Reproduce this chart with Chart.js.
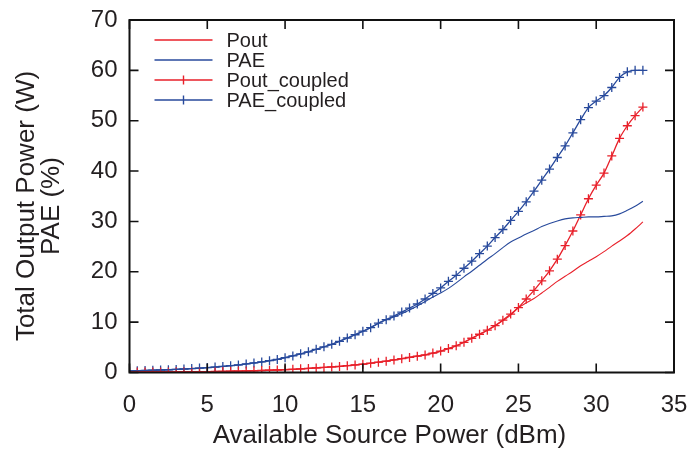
<!DOCTYPE html>
<html lang="en">
<head>
  <meta charset="UTF-8">
  <title>Pout / PAE vs Available Source Power</title>
  <style>
    html, body { margin: 0; padding: 0; background: #fff; }
    #wrap { width: 700px; height: 454px; }
  </style>
</head>
<body>
  <div id="wrap"><canvas id="grafico"></canvas></div>

  <script src="https://cdn.jsdelivr.net/npm/chart.js"></script>
  <script>
    // potencia de entrada (dBm), passo de 0.5
    const potenciaFonte = [
      0, 0.5, 1, 1.5, 2, 2.5, 3, 3.5, 4, 4.5,
      5, 5.5, 6, 6.5, 7, 7.5, 8, 8.5, 9, 9.5,
      10, 10.5, 11, 11.5, 12, 12.5, 13, 13.5, 14, 14.5,
      15, 15.5, 16, 16.5, 17, 17.5, 18, 18.5, 19, 19.5,
      20, 20.5, 21, 21.5, 22, 22.5, 23, 23.5, 24, 24.5,
      25, 25.5, 26, 26.5, 27, 27.5, 28, 28.5, 29, 29.5,
      30, 30.5, 31, 31.5, 32, 32.5, 33
    ];

    const pout = [
      0.1, 0.1, 0.1, 0.1, 0.1, 0.12, 0.13, 0.14, 0.15, 0.17,
      0.18, 0.2, 0.22, 0.25, 0.28, 0.31, 0.35, 0.4, 0.45, 0.5,
      0.57, 0.64, 0.72, 0.81, 0.9, 1.0, 1.1, 1.2, 1.35, 1.5,
      1.65, 1.85, 2.05, 2.25, 2.5, 2.75, 3.0, 3.25, 3.5, 3.85,
      4.25, 4.75, 5.3, 6.0, 6.8, 7.6, 8.4, 9.3, 10.3, 11.4,
      12.9, 13.8, 14.7, 15.8, 16.9, 18.1, 19.1, 20.1, 21.2, 22.1,
      23.0, 24.0, 25.1, 26.1, 27.2, 28.5, 29.9
    ];

    const pae = [
      0.3, 0.35, 0.4, 0.45, 0.5, 0.55, 0.62, 0.7, 0.78, 0.87,
      0.97, 1.08, 1.2, 1.35, 1.5, 1.7, 1.9, 2.1, 2.35, 2.6,
      2.95, 3.3, 3.7, 4.1, 4.6, 5.1, 5.6, 6.2, 6.85, 7.5,
      8.2, 8.9, 9.8, 10.5, 11.0, 11.7, 12.4, 13.2, 14.1, 15.0,
      15.8, 16.7, 17.8, 19.0, 20.1, 21.3, 22.5, 23.6, 24.8, 25.9,
      26.7, 27.5, 28.2, 29.0, 29.6, 30.1, 30.5, 30.7, 30.8, 30.9,
      30.9, 31.0, 31.1, 31.5, 32.2, 33.0, 34.0
    ];

    const poutCoupled = [
      0.1, 0.1, 0.1, 0.1, 0.1, 0.12, 0.13, 0.14, 0.15, 0.17,
      0.18, 0.2, 0.22, 0.25, 0.28, 0.31, 0.35, 0.4, 0.45, 0.5,
      0.57, 0.64, 0.72, 0.81, 0.9, 1.0, 1.1, 1.2, 1.35, 1.5,
      1.65, 1.85, 2.05, 2.25, 2.5, 2.75, 3.0, 3.25, 3.5, 3.85,
      4.25, 4.75, 5.3, 6.0, 6.8, 7.6, 8.4, 9.3, 10.4, 11.6,
      12.9, 14.6, 16.3, 18.2, 20.2, 22.5, 25.2, 28.1, 31.3, 34.5,
      37.2, 39.6, 43.0, 46.5, 49.0, 51.0, 52.7
    ];

    const paeCoupled = [
      0.3, 0.35, 0.4, 0.45, 0.5, 0.55, 0.62, 0.7, 0.78, 0.87,
      0.97, 1.08, 1.2, 1.35, 1.5, 1.7, 1.9, 2.1, 2.35, 2.6,
      2.95, 3.3, 3.7, 4.1, 4.6, 5.1, 5.6, 6.2, 6.85, 7.5,
      8.2, 8.9, 9.8, 10.5, 11.2, 12.0, 12.8, 13.6, 14.6, 15.7,
      16.8, 18.1, 19.3, 20.7, 22.1, 23.6, 25.1, 26.8, 28.4, 30.2,
      32.0, 33.9, 36.0, 38.2, 40.4, 42.7, 45.0, 47.6, 50.2, 52.6,
      53.9, 55.0, 56.6, 58.6, 59.7, 60.0, 60.0
    ];

    const tituloX = 'Available Source Power (dBm)';
    const tituloY = ['Total Output Power (W)', 'PAE (%)'];

    const vermelho = '#e8202a';
    const azul = '#284a9c';
    const corTexto = '#231f20';
    const fonte = '"Liberation Sans", Arial, sans-serif';

    function pontos(valores) {
      return valores.map((v, i) => ({ x: potenciaFonte[i], y: v }));
    }

    // moldura preta com ticks para dentro nos 4 lados
    const moldura = {
      id: 'moldura',
      afterDatasetsDraw(chart) {
        const { ctx, chartArea: a, scales: { x, y } } = chart;
        ctx.save();
        ctx.strokeStyle = '#111';
        ctx.lineWidth = 1.6;
        ctx.beginPath();
        x.ticks.forEach(t => {
          const px = x.getPixelForValue(t.value);
          ctx.moveTo(px, a.bottom); ctx.lineTo(px, a.bottom - 9);
          ctx.moveTo(px, a.top); ctx.lineTo(px, a.top + 9);
        });
        y.ticks.forEach(t => {
          const py = y.getPixelForValue(t.value);
          ctx.moveTo(a.left, py); ctx.lineTo(a.left + 9, py);
          ctx.moveTo(a.right, py); ctx.lineTo(a.right - 9, py);
        });
        ctx.stroke();
        ctx.lineWidth = 2;
        ctx.strokeRect(a.left, a.top, a.right - a.left, a.bottom - a.top);
        ctx.restore();
      }
    };

    // titulos dos eixos (posicao igual a da figura original)
    const titulos = {
      id: 'titulos',
      afterDraw(chart) {
        const { ctx, chartArea: a } = chart;
        ctx.save();
        ctx.fillStyle = corTexto;
        ctx.font = '26px ' + fonte;
        ctx.textAlign = 'center';
        ctx.textBaseline = 'middle';
        ctx.fillText(tituloX, a.left + 260, a.bottom + 63);
        ctx.translate(26.5, a.top + 186);
        ctx.rotate(-Math.PI / 2);
        tituloY.forEach((linha, i) => ctx.fillText(linha, 0, i * 25.4));
        ctx.restore();
      }
    };

    // legenda dentro do grafico, canto superior esquerdo
    const legenda = {
      id: 'legenda',
      afterDraw(chart) {
        const { ctx, chartArea: a } = chart;
        ctx.font = '20px ' + fonte;
        ctx.textBaseline = 'middle';
        ctx.textAlign = 'left';
        chart.data.datasets.forEach((ds, i) => {
          const y = Math.round(a.top + 19.5 + i * 20.2);
          const x0 = a.left + 25, x1 = a.left + 83, xm = (x0 + x1) / 2;
          ctx.save();
          ctx.strokeStyle = ds.borderColor;
          ctx.lineWidth = 1.4;
          ctx.beginPath();
          ctx.moveTo(x0, y);
          ctx.lineTo(x1, y);
          if (ds.pointRadius > 0) {
            ctx.moveTo(xm, y - ds.pointRadius);
            ctx.lineTo(xm, y + ds.pointRadius);
          }
          ctx.stroke();
          ctx.restore();
          ctx.fillStyle = corTexto;
          ctx.fillText(ds.label, a.left + 97, y + 1);
        });
      }
    };

    const serie = (label, valores, cor, comPontos) => ({
      label: label,
      data: pontos(valores),
      borderColor: cor,
      backgroundColor: cor,
      borderWidth: comPontos ? 1.3 : 1.1,
      pointStyle: 'cross',
      pointRadius: comPontos ? 4.5 : 0,
      pointBorderWidth: 1.3,
      pointBorderColor: cor,
      cubicInterpolationMode: 'monotone',
      fill: false
    });

    new Chart(document.getElementById('grafico'), {
      type: 'line',
      data: {
        datasets: [
          serie('Pout', pout, vermelho, false),
          serie('PAE', pae, azul, false),
          serie('Pout_coupled', poutCoupled, vermelho, true),
          serie('PAE_coupled', paeCoupled, azul, true)
        ]
      },
      options: {
        responsive: true,
        maintainAspectRatio: false,
        animation: false,
        events: [],
        layout: { padding: { top: 20, right: 26, left: 0, bottom: 0 } },
        plugins: {
          legend: { display: false },
          tooltip: { enabled: false }
        },
        scales: {
          x: {
            type: 'linear',
            min: 0,
            max: 35,
            grid: { display: false, drawTicks: false },
            border: { display: false },
            ticks: { stepSize: 5, padding: 18, color: corTexto, font: { family: fonte, size: 24 } },
            afterFit(s) {
              s.height = 81.5;
              s.paddingLeft = 0;
              s.paddingRight = 0;
            }
          },
          y: {
            type: 'linear',
            min: 0,
            max: 70,
            grid: { display: false, drawTicks: false },
            border: { display: false },
            ticks: { stepSize: 10, padding: 12, color: corTexto, font: { family: fonte, size: 24 } },
            afterFit(s) {
              s.width = 129.5;
              s.paddingTop = 0;
              s.paddingBottom = 0;
            }
          }
        }
      },
      plugins: [moldura, titulos, legenda]
    });
  </script>
</body>
</html>
